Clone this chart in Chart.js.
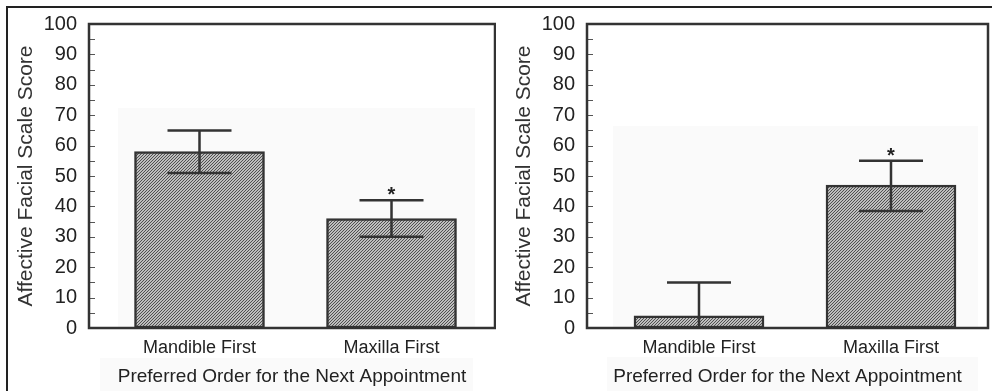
<!DOCTYPE html>
<html><head><meta charset="utf-8">
<script src="https://cdn.jsdelivr.net/npm/chart.js@4/dist/chart.umd.min.js"></script>
<style>
html,body{margin:0;padding:0;background:#fff;overflow:hidden;width:992px;height:391px;position:relative;}
#frame{position:absolute;left:6px;top:6px;width:1000px;height:400px;border-left:2px solid #222;border-top:2px solid #222;}
.shade{position:absolute;background:#fafafa;}
.panel{position:absolute;top:0;width:496px;height:391px;}
</style></head><body>
<div id="frame"></div>
<div class="shade" style="left:118px;top:108px;width:357px;height:220px"></div>
<div class="shade" style="left:100px;top:358px;width:373px;height:33px"></div>
<div class="shade" style="left:613px;top:126px;width:365px;height:202px"></div>
<div class="shade" style="left:607px;top:357px;width:371px;height:34px"></div>
<div class="panel" style="left:0"><canvas id="c1"></canvas></div>
<div class="panel" style="left:496px"><canvas id="c2"></canvas></div>
<script>
// ---- data ----
const categories = ["Mandible First", "Maxilla First"];
const leftMeans = [58, 36];
const leftUpper = [65, 42];
const leftLower = [51, 30];
const leftSignificant = [false, true];
const rightMeans = [4, 47];
const rightUpper = [15, 55];
const rightLower = [-7, 38.5];
const rightSignificant = [false, true];
const yAxisTitle = "Affective Facial Scale Score";
const xAxisTitle = "Preferred Order for the Next Appointment";
const yMin = 0, yMax = 100, yMajorStep = 10, yMinorStep = 5;

const family = '"Liberation Sans", Arial, Helvetica, sans-serif';

function hatch(){
  const c = document.createElement('canvas'); c.width = 3; c.height = 3;
  const x = c.getContext('2d'); const img = x.createImageData(3,3);
  for (let j=0;j<3;j++) for (let i=0;i<3;i++){
    const k = (j*3+i)*4; const d = ((i+j)%3===0); const v = d ? 80 : 190;
    img.data[k]=img.data[k+1]=img.data[k+2]=v; img.data[k+3]=255;
  }
  x.putImageData(img,0,0);
  return x.createPattern(c,'repeat');
}

const decorPlugin = {
  id: 'decor',
  afterDatasetsDraw(chart, args, opts){
    const {ctx, chartArea:a, scales:{y}} = chart;
    ctx.save();
    ctx.strokeStyle = '#555'; ctx.lineWidth = 1;
    for (let v=yMin; v<=yMax; v+=yMinorStep){
      const py = Math.round(y.getPixelForValue(v)) + 0.5;
      ctx.beginPath(); ctx.moveTo(a.left, py); ctx.lineTo(a.left+6, py); ctx.stroke();
    }
    const meta = chart.getDatasetMeta(0);
    ctx.strokeStyle = '#333'; ctx.lineWidth = 2.5;
    opts.upper.forEach((u,i) => {
      const cx = meta.data[i].x;
      const lo = Math.max(opts.lower[i], yMin);
      const pu = y.getPixelForValue(u), pl = y.getPixelForValue(lo);
      ctx.beginPath();
      ctx.moveTo(cx, pu); ctx.lineTo(cx, pl);
      ctx.moveTo(cx-32, pu); ctx.lineTo(cx+32, pu);
      if (opts.lower[i] >= yMin){ ctx.moveTo(cx-32, pl); ctx.lineTo(cx+32, pl); }
      ctx.stroke();
      if (opts.sig[i]){
        ctx.fillStyle = '#222'; ctx.font = 'bold 20px ' + family;
        ctx.textAlign = 'center'; ctx.textBaseline = 'alphabetic';
        ctx.fillText('*', cx, pu + 1);
      }
    });
    ctx.strokeStyle = '#333'; ctx.lineWidth = 2.5;
    ctx.strokeRect(a.left, a.top, a.right - a.left, a.bottom - a.top);
    ctx.restore();
  }
};

function makeChart(id, means, upper, lower, sig, L){
  return new Chart(document.getElementById(id), {
    type: 'bar',
    data: { datasets: [{
      data: means.map((v,i) => ({x:i, y:v})),
      backgroundColor: hatch(), borderColor: '#333', borderWidth: 2.5,
      borderSkipped: false, barThickness: 130
    }]},
    options: {
      responsive: true, maintainAspectRatio: false, animation: false,
      devicePixelRatio: 1,
      layout: { padding: { top: L.top, right: L.right, left: 0, bottom: 0 } },
      plugins: { legend: {display:false}, tooltip: {enabled:false}, decor: {upper, lower, sig} },
      scales: {
        x: {
          type: 'linear', offset: false, min: L.xmin, max: L.xmax,
          grid: {display:false, drawTicks:false}, border: {display:false},
          afterBuildTicks: s => { s.ticks = categories.map((c,i) => ({value:i})); },
          afterFit: s => { s.height = 63; },
          ticks: { padding: 9, color: '#222', font: {family, size:18}, autoSkip: false, maxRotation: 0,
                   callback: v => (categories[v] !== undefined ? categories[v] : '') },
          title: { display: true, text: xAxisTitle, color: '#222', font: {family, size:19}, padding: {top:2, bottom:3} }
        },
        y: {
          min: yMin, max: yMax,
          ticks: { stepSize: yMajorStep, padding: 12, color: '#222', font: {family, size:20}, autoSkip: false },
          grid: {display:false, drawTicks:false}, border: {display:false},
          afterFit: s => { s.width = L.yw; },
          title: { display: true, text: yAxisTitle, color: '#333', font: {family, size:21}, padding: {top:L.tp, bottom:0} }
        }
      }
    },
    plugins: [decorPlugin]
  });
}

makeChart('c1', leftMeans, leftUpper, leftLower, leftSignificant,
  {top:23, right:1, yw:89, tp:14, xmin:-0.5755, xmax:1.539});
makeChart('c2', rightMeans, rightUpper, rightLower, rightSignificant,
  {top:23, right:4, yw:91, tp:16, xmin:-0.5833, xmax:1.5052});
</script>
</body></html>
